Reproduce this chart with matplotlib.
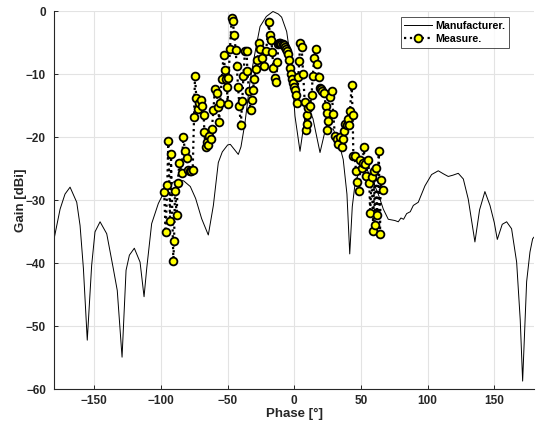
import numpy as np
import matplotlib
matplotlib.use("Agg")
from matplotlib import pyplot as plt

plt.rcParams['font.family'] = ['Liberation Sans', 'DejaVu Sans']

# Manufacturer radiation pattern (phase in degrees, gain in dBi)
manuf_phase = [-180, -175.7, -172, -168.2, -163.2, -160.7, -158.2, -155.3, -152, -149.5,
               -145.7, -140.7, -135.8, -132.8, -129.2, -126.2, -123.7, -120, -115.7, -112.7,
               -110.7, -107, -102, -98, -94, -90, -86, -83, -78, -74,
               -69.5, -64.5, -60.7, -57, -54, -50, -48, -45, -42, -40,
               -37, -33, -29, -25.7, -21, -16, -12, -9.5, -5.7, -2,
               0.5, 4.3, 7.5, 10.3, 14, 19.3, 22.5, 25.5, 29.2, 33,
               36.7, 39.5, 41.6, 43.5, 45.5, 49.3, 53, 58, 63, 66.8,
               70.5, 75.5, 78, 80, 82, 84.3, 87, 89.3, 93, 98,
               103, 108, 112, 115.5, 119, 123, 126.8, 130.5, 135.5, 139,
               143, 146.8, 150, 152.3, 156, 159.3, 163, 166.8, 169.5, 171.3,
               174.3, 176.8, 178.8, 180]
manuf_gain = [-35.9, -31.4, -29, -27.9, -30.3, -34, -40.8, -52.2, -40.3, -35,
              -33.4, -35.3, -40.8, -44.3, -54.9, -41.1, -38.7, -37.6, -39.8, -45.3,
              -40.8, -33.7, -30.5, -28.8, -27.6, -27, -26.8, -26.9, -27.8, -29.7,
              -32.9, -35.5, -30.8, -24, -22.3, -21.2, -21.1, -21.9, -22.7, -21.5,
              -17.7, -10.8, -6, -2.4, -0.8, 0, -0.4, -0.9, -3.2, -8.7,
              -16.6, -22.2, -17.5, -15.3, -17, -22.4, -19.5, -18.5, -18.7, -20.5,
              -23.5, -29, -38.5, -31, -27.5, -25, -24.5, -26.5, -29, -31.4,
              -33, -33.2, -33.4, -32.8, -33, -32.1, -31.8, -30.8, -30.3, -27.7,
              -25.9, -25.3, -25.8, -26.2, -26, -25.7, -26.6, -29.8, -36.6, -31.5,
              -28.6, -30.8, -33.5, -36.2, -33.8, -33.4, -34.5, -39.8, -49, -58.7,
              -42.9, -38.2, -36.1, -35.8]

# Measured gain samples
meas_phase = [-97.6, -96.5, -95.3, -94.5, -93.2, -92.5, -90.7, -90.2, -89.5, -88.2,
              -87.5, -86.2, -84.5, -83.3, -82, -80.5, -79.4, -78.4, -77.3, -76.2,
              -75.2, -74.5, -73.5, -72.4, -71.5, -70.2, -69, -68, -67.4, -66.6,
              -65.8, -65, -64, -62.8, -61.8, -60.7, -59.5, -58.2, -57, -56.4,
              -55.6, -54.5, -53, -52, -51.2, -50.6, -50, -49.4, -48.2, -47,
              -46.2, -45, -44, -43.2, -42.2, -41.2, -40.2, -39, -38.2, -37,
              -35.8, -35.2, -34, -32.8, -32, -31, -30, -29, -27.6, -26.3,
              -25.5, -24.5, -22.8, -21.2, -19, -18.4, -17.2, -16.5, -15.7, -14.6,
              -13.8, -12.6, -12, -11.2, -10.4, -9.6, -8.8, -8, -7.2, -6.4,
              -5.6, -4.8, -4, -3.4, -2.7, -2, -1.2, -0.4, 0.5, 1.3,
              2.3, 3, 3.7, 4.5, 5.5, 6.7, 7.8, 8.6, 9.3, 9.8,
              10.5, 11.8, 13, 13.8, 15, 16, 17.2, 18.5, 19.5, 20.3,
              21, 22.5, 23.5, 24.3, 24.6, 25, 26.8, 28, 29.2, 30.5,
              31.8, 33, 34.3, 35.5, 36.3, 37.3, 38, 39.3, 40, 41,
              41.8, 43, 43.8, 44.3, 45.3, 46.3, 47.3, 48.6, 49.6, 50.5,
              51.3, 52.2, 53, 53.8, 55.5, 56.3, 56.9, 58, 59.3, 59.8,
              60.5, 61.3, 62.3, 63.4, 64.3, 64.8, 66.3]
meas_gain = [-28.7, -35, -27.6, -20.5, -33.2, -22.6, -39.7, -36.5, -28.5, -32.3,
             -27.3, -24.1, -25.6, -20, -22.1, -23.2, -25.2, -25.4, -25.3, -25.1,
             -16.8, -10.2, -13.7, -15.5, -14.6, -14.1, -15, -16.5, -19.2, -21.6,
             -20.8, -21.2, -19.8, -20.2, -18.7, -15.7, -12.3, -12.9, -15.2, -17.5,
             -14.5, -10.8, -6.9, -9.3, -10.8, -12, -14.7, -10.6, -6, -1.1,
             -1.5, -3.7, -6.1, -8.7, -12, -15, -18.1, -14.2, -10.3, -6.3,
             -6.2, -9.4, -12.7, -15.7, -14, -12.4, -10.7, -9.2, -7.7, -5,
             -6, -7.4, -8.7, -6.3, -1.7, -3.7, -4.6, -6.4, -9, -10.5,
             -11.2, -8, -5.2, -5, -5, -5.1, -5.2, -5.4, -5.6, -6,
             -6.3, -6.8, -7.7, -9, -9.9, -10.7, -11.4, -12, -12.5, -13.2,
             -14.5, -10.4, -7.8, -5, -5.7, -10, -14.3, -18.9, -17.8, -16.4,
             -15.4, -15, -13.2, -10.3, -7.4, -6, -8.3, -10.4, -12.1, -12.3,
             -12.6, -12.9, -15, -16.1, -18.9, -17.4, -13.6, -12.6, -16.3, -19.8,
             -20.3, -21, -19.9, -21.5, -20.3, -19, -17.9, -18, -17.1, -18,
             -15.8, -11.6, -16.4, -22.9, -23, -25.3, -27.1, -28.5, -23.6, -24.8,
             -24, -21.6, -24.3, -26.1, -23.6, -27.2, -32, -26.3, -34.9, -25.3,
             -33.9, -24.9, -32.4, -22.2, -35.3, -26.7, -28.4]

fig = plt.figure(figsize=(5.38, 4.30), dpi=100)
ax = fig.add_axes([0.101, 0.0947, 0.892, 0.8786])

ax.plot(manuf_phase, manuf_gain, color='k', lw=0.7, label='Manufacturer.', zorder=2)
ax.plot(meas_phase, meas_gain, color='k', ls=':', lw=1.6, marker='o',
        markersize=5.6, markerfacecolor='#ffff00', markeredgecolor='k',
        markeredgewidth=1.3, label='Measure.', zorder=3)

ax.set_xlim(-180, 180)
ax.set_ylim(-60, 0)
ax.set_xticks(np.arange(-150, 151, 50))
ax.set_yticks(np.arange(-60, 1, 10))
ax.grid(True, color='#e3e3e3', lw=0.8)
ax.set_axisbelow(True)
for side in ['top', 'right']:
    ax.spines[side].set_visible(False)
for side in ['left', 'bottom']:
    ax.spines[side].set_color('#262626')
    ax.spines[side].set_linewidth(0.8)
ax.tick_params(direction='in', length=3, width=0.7, colors='#262626', labelsize=8.5)
ax.tick_params(axis='x', pad=4)
ax.tick_params(axis='y', pad=6)
for lbl in ax.get_xticklabels() + ax.get_yticklabels():
    lbl.set_fontweight('bold')

ax.set_xlabel('Phase [°]', fontsize=9.5, fontweight='bold', color='#262626', labelpad=1)
ax.set_ylabel('Gain [dBi]', fontsize=9.5, fontweight='bold', color='#262626', labelpad=-1)

leg = ax.legend(loc='upper right', bbox_to_anchor=(0.952, 0.99),
                prop={'weight': 'bold', 'size': 7.7}, frameon=True, fancybox=False,
                edgecolor='#262626', handlelength=2.6, borderpad=0.35,
                labelspacing=0.25, handletextpad=0.3, borderaxespad=0.2)
leg.get_frame().set_linewidth(0.7)

fig.savefig('out.png', dpi=100)
